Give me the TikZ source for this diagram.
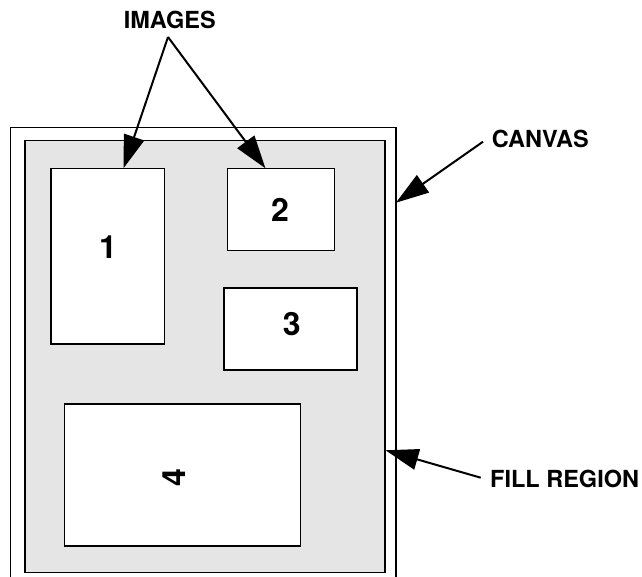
\documentclass[tikz,border=0pt]{standalone}
\usepackage{fontspec}
\setmainfont{TeX Gyre Heros}
\usetikzlibrary{arrows.meta,calc}
\definecolor{fillgray}{HTML}{E5E5E5}
\tikzset{
  imgbox/.style={draw=black,line width=1.2pt,fill=white,inner sep=0pt,anchor=north west},
  numlbl/.style={inner sep=0pt,font=\bfseries\fontsize{32}{36}\selectfont},
  callout/.style={inner sep=0pt,anchor=west,font=\bfseries\fontsize{23.5}{28}\selectfont},
  pointer/.style={line width=2pt,-{Triangle[length=33pt,width=21pt]}}
}
\begin{document}
\begin{tikzpicture}[x=1pt,y=-1pt]
\useasboundingbox (0,0) rectangle (642,577);
% canvas (open at the bottom)
\draw[line width=1.2pt] (10.3,577) -- (10.3,127.5) -- (396,127.5) -- (396,577);
\coordinate (canvasR) at (396,202.7);
% fill region
\node[draw=black,line width=1.2pt,fill=fillgray,inner sep=0pt,anchor=north west,
      minimum width=360pt,minimum height=431.7pt] (fill) at (24.3,140.3) {};
% images
\node[imgbox,minimum width=113.7pt,minimum height=175pt] (img1) at (50.3,168.3) {};
\node[imgbox,minimum width=107.3pt,minimum height=81.5pt] (img2) at (226.7,168.3) {};
\node[imgbox,minimum width=133pt,minimum height=82pt] (img3) at (223.3,287.3) {};
\node[imgbox,minimum width=236pt,minimum height=142pt] (img4) at (64,403.3) {};
\node[numlbl] (n1) at (108,246.7) {1};
\node[numlbl] (n2) at (280,210) {2};
\node[numlbl] (n3) at (291.7,324) {3};
\node[numlbl,rotate=90] (n4) at (174.5,478) {4};
% labels
\node[callout,anchor=center] (images) at (169.8,20) {IMAGES};
\node[callout] (canvas) at (491.7,138.5) {CANVAS};
\node[callout] (fillreg) at (490,478.7) {FILL REGION};
% arrows
\coordinate (apex) at (168,37);
\draw[pointer] (apex) -- ($(img1.north west)!0.637!(img1.north east)$);
\draw[pointer] (apex) -- ($(img2.north west)!0.357!(img2.north east)$);
\coordinate (canvasStart) at (483,141.7);
\draw[pointer] (canvasStart) -- (canvasR);
\coordinate (fillStart) at (480.7,477.7);
\draw[pointer] (fillStart) -- ($(fill.north east)!0.716!(fill.south east)$);
\end{tikzpicture}
\end{document}
